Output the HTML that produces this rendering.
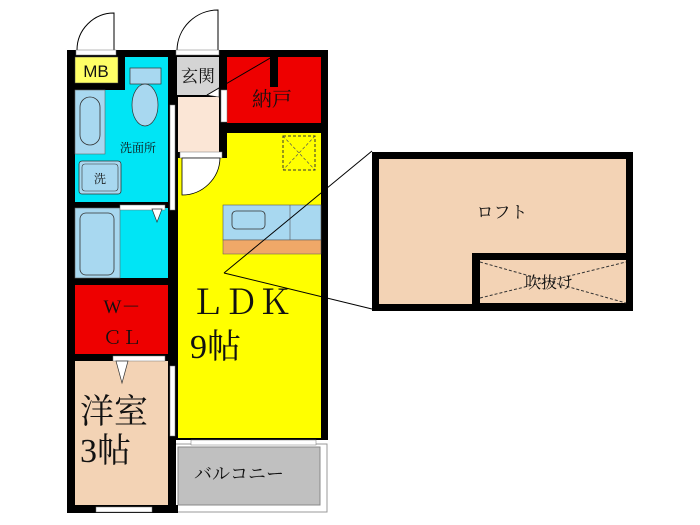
<!DOCTYPE html>
<html><head><meta charset="utf-8"><style>
body{margin:0;background:#fff;}
svg{display:block;}
text{font-family:"Liberation Serif","Noto Serif CJK SC",serif;fill:#111;}
</style></head><body>
<svg width="700" height="525" viewBox="0 0 700 525" xmlns="http://www.w3.org/2000/svg">
<rect x="67" y="50" width="261" height="463" fill="#000"/>
<rect x="170" y="440" width="160" height="74" fill="#fff"/>
<rect x="175" y="444" width="152" height="68" fill="#fff" stroke="#999" stroke-width="1"/>
<rect x="168" y="440" width="8" height="73" fill="#000"/>
<rect x="178" y="447" width="142" height="58" fill="#c0c0c0" stroke="#888" stroke-width="1"/>
<rect x="67" y="505" width="111" height="8" fill="#000"/>
<path d="M77 50 A37 37 0 0 1 114 13 L114 50" fill="#fff" stroke="#000" stroke-width="1"/>
<rect x="76" y="50" width="40" height="5" fill="#fff" stroke="#777" stroke-width="0.5"/>
<path d="M177 50 A41 41 0 0 1 218 10 L218 50" fill="#fff" stroke="#000" stroke-width="1"/>
<rect x="176" y="50" width="43" height="5" fill="#fff" stroke="#777" stroke-width="0.5"/>
<rect x="75" y="57" width="43" height="26" fill="#ffff66" stroke="#444" stroke-width="0.5"/>
<text x="96" y="77" font-size="17" text-anchor="middle" style="font-family:'Liberation Sans',sans-serif">MB</text>
<rect x="125" y="57" width="43" height="145" fill="#00e5f5"/>
<rect x="75" y="90" width="93" height="112" fill="#00e5f5"/>
<rect x="75" y="90" width="30" height="64" fill="#a8d8f0" stroke="#666" stroke-width="0.6"/>
<rect x="80" y="97" width="20" height="48" rx="10" fill="#a8d8f0" stroke="#333" stroke-width="0.8"/>
<rect x="79" y="161" width="42" height="33" rx="3" fill="#a8d8f0" stroke="#333" stroke-width="0.8"/>
<rect x="82" y="164" width="36" height="27" rx="3" fill="#a8d8f0" stroke="#333" stroke-width="0.6"/>
<text x="100" y="183" font-size="12" text-anchor="middle">洗</text>
<rect x="130" y="68" width="31" height="16" fill="#a8d8f0" stroke="#333" stroke-width="0.7"/>
<ellipse cx="145" cy="105" rx="13" ry="21" fill="#a8d8f0" stroke="#333" stroke-width="0.7"/>
<text x="138" y="152" font-size="12" text-anchor="middle" fill="#222">洗面所</text>
<rect x="75" y="208" width="93" height="70" fill="#00e5f5"/>
<rect x="75" y="208" width="45" height="70" fill="#a8d8f0" stroke="#666" stroke-width="0.6"/>
<rect x="80" y="213" width="34" height="62" rx="6" fill="#a8d8f0" stroke="#333" stroke-width="0.8"/>
<rect x="120" y="205" width="45" height="5" fill="#fff" stroke="#777" stroke-width="0.5"/>
<path d="M152 209 L162 209 L157 222 Z" fill="#fff" stroke="#333" stroke-width="0.7"/>
<rect x="75" y="285" width="93" height="69" fill="#ee0000"/>
<text x="122" y="313" font-size="19" text-anchor="middle">W－</text>
<text x="122" y="344" font-size="19" text-anchor="middle">ＣＬ</text>
<rect x="75" y="361" width="93" height="144" fill="#f3d3b5"/>
<rect x="113" y="356" width="52" height="5" fill="#fff" stroke="#777" stroke-width="0.5"/>
<path d="M116 361 L128 361 L122 383 Z" fill="#fff" stroke="#333" stroke-width="0.7"/>
<rect x="96" y="507" width="56" height="5" fill="#fff" stroke="#777" stroke-width="0.5"/>
<text x="80" y="423" font-size="34">洋室</text>
<text x="80" y="462" font-size="34">3帖</text>
<rect x="170" y="105" width="5" height="105" fill="#fff" stroke="#777" stroke-width="0.5"/>
<rect x="170" y="366" width="5" height="70" fill="#fff" stroke="#777" stroke-width="0.5"/>
<rect x="177" y="57" width="42" height="38" fill="#d4d4d4"/>
<text x="198" y="82" font-size="17" text-anchor="middle" fill="#333">玄関</text>
<rect x="178" y="97" width="41" height="55" fill="#fbe6d6"/>
<path d="M207 95 L219 88 L219 97 Z" fill="#fff" stroke="#333" stroke-width="0.6"/>
<rect x="227" y="57" width="94" height="66" fill="#ee0000"/>
<rect x="270" y="57" width="8" height="30" fill="#000"/>
<rect x="221" y="90" width="6" height="32" fill="#fff" stroke="#777" stroke-width="0.5"/>
<text x="272" y="106" font-size="20" text-anchor="middle">納戸</text>
<line x1="207" y1="95" x2="272" y2="57" stroke="#000" stroke-width="1"/>
<rect x="227" y="133" width="94" height="25" fill="#ffff00"/>
<rect x="178" y="158" width="143" height="280" fill="#ffff00"/>
<rect x="180" y="152" width="42" height="6" fill="#fff" stroke="#777" stroke-width="0.5"/>
<path d="M182 158 V195 A38 38 0 0 0 220 158 Z" fill="#fff" stroke="#000" stroke-width="0.8"/>
<rect x="283" y="136" width="32" height="34" fill="none" stroke="#333" stroke-width="1" stroke-dasharray="3,2"/>
<path d="M283 136 L315 170 M315 136 L283 170" stroke="#555" stroke-width="0.7" stroke-dasharray="3,2"/>
<rect x="223" y="205" width="98" height="35" fill="#a8d8f0" stroke="#555" stroke-width="0.6"/>
<line x1="290" y1="205" x2="290" y2="240" stroke="#555" stroke-width="0.6"/>
<rect x="232" y="211" width="33" height="18" rx="4" fill="#a8d8f0" stroke="#333" stroke-width="0.8"/>
<rect x="223" y="240" width="98" height="14" fill="#f0a868" stroke="#555" stroke-width="0.5"/>
<rect x="191" y="440" width="125" height="5" fill="#fff" stroke="#777" stroke-width="0.5"/>
<text x="190" y="314" font-size="34">ＬＤＫ</text>
<text x="190" y="358" font-size="34">9帖</text>
<text x="194" y="480" font-size="18" fill="#333">バルコニー</text>
<line x1="224" y1="273" x2="372" y2="151" stroke="#000" stroke-width="1"/>
<line x1="224" y1="273" x2="372" y2="309" stroke="#000" stroke-width="1"/>
<rect x="372" y="152" width="261" height="159" fill="#000"/>
<rect x="379" y="159" width="247" height="145" fill="#f3d3b5"/>
<rect x="472" y="253" width="161" height="58" fill="#000"/>
<rect x="480" y="260" width="146" height="43" fill="#f3d3b5"/>
<path d="M480 298 L626 262 M480 262 L626 303" stroke="#333" stroke-width="1" stroke-dasharray="3,2"/>
<text x="502" y="218" font-size="17" text-anchor="middle" fill="#333">ロフト</text>
<text x="549" y="288" font-size="16" text-anchor="middle">吹抜け</text>
</svg>
</body></html>
